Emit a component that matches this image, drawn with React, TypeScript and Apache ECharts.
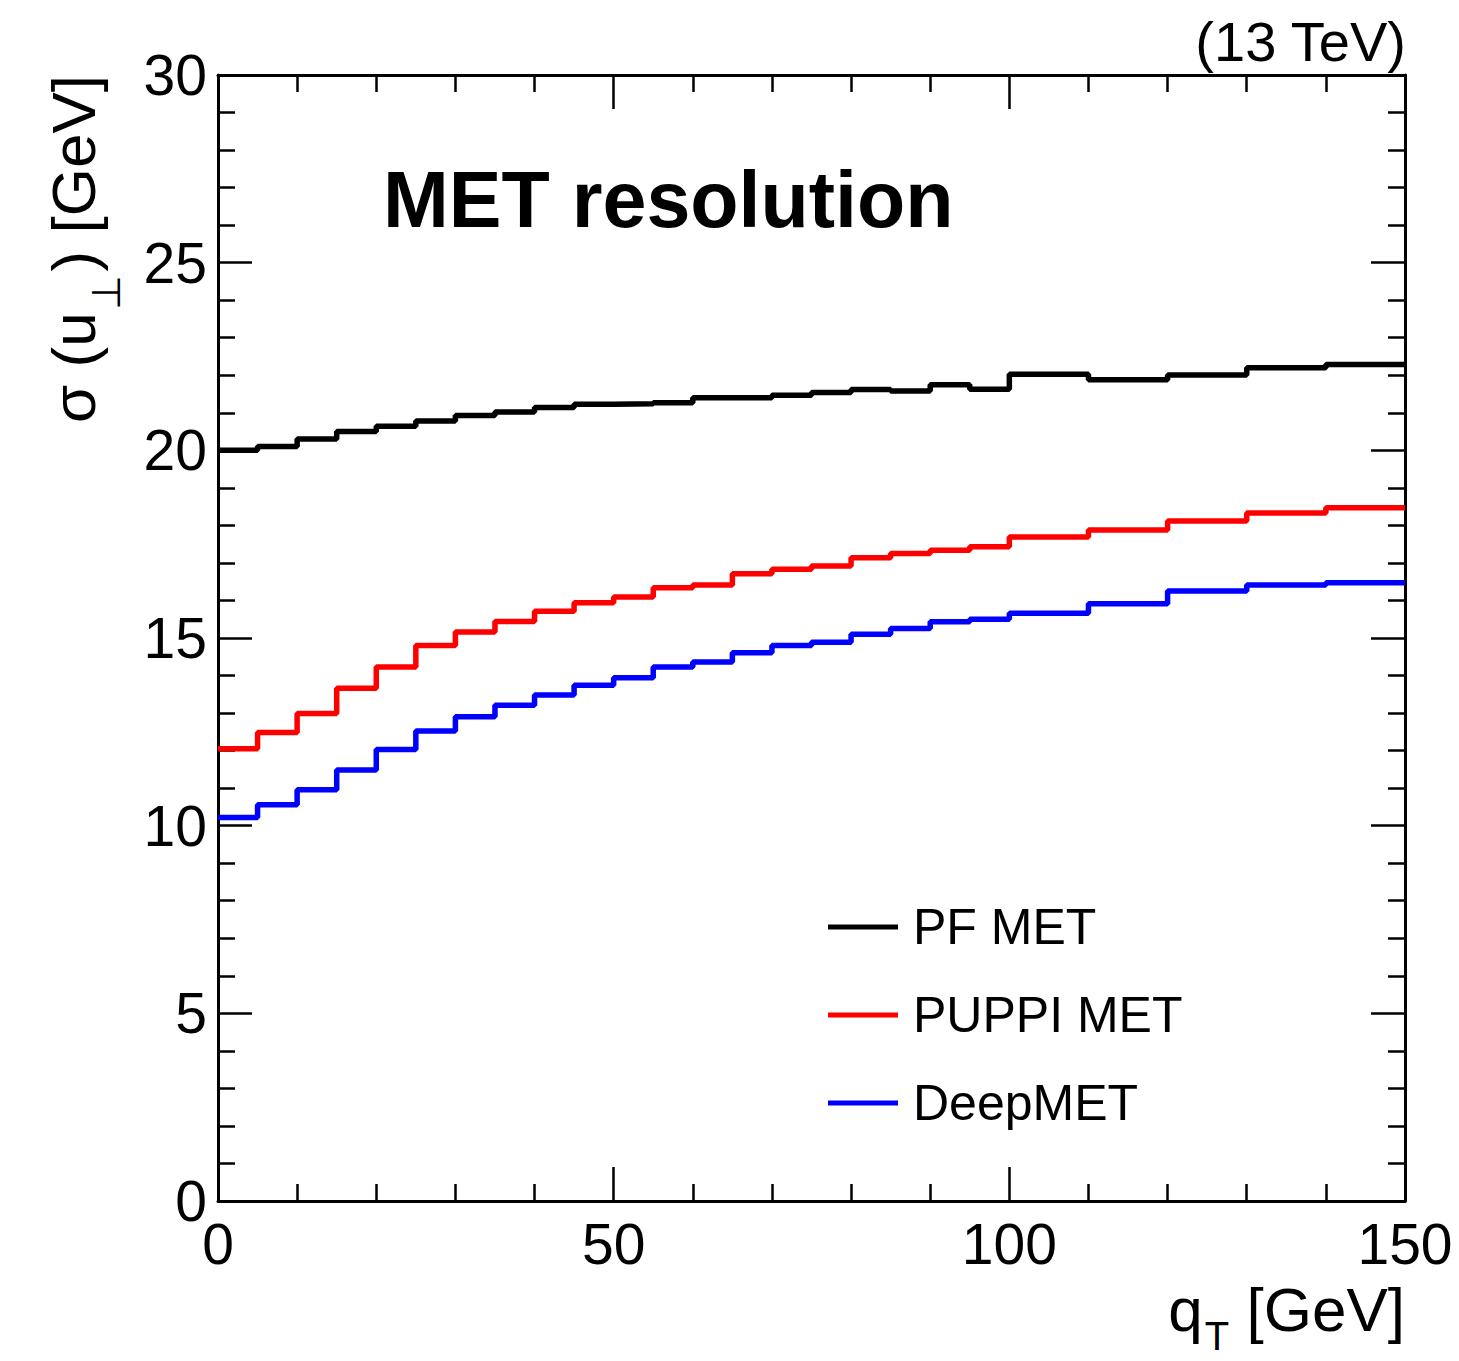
import React, { useEffect, useRef } from "react";
import * as echarts from "echarts";

// Bin edges of q_T [GeV]
const qtEdges = [0, 5, 10, 15, 20, 25, 30, 35, 40, 45, 50, 55, 60, 65, 70, 75, 80, 85, 90, 95, 100, 105, 110, 115, 120, 125, 130, 135, 140, 145, 150];

// sigma(u_perp) [GeV] per bin
const pfMet = [20.0, 20.1, 20.3, 20.5, 20.64, 20.78, 20.93, 21.02, 21.14, 21.23, 21.24, 21.27, 21.4, 21.4, 21.47, 21.54, 21.62, 21.58, 21.75, 21.63, 22.03, 22.03, 21.88, 21.88, 22.01, 22.01, 22.2, 22.2, 22.29, 22.29];
const puppiMet = [12.05, 12.48, 12.99, 13.66, 14.23, 14.8, 15.16, 15.44, 15.71, 15.94, 16.09, 16.34, 16.41, 16.71, 16.83, 16.92, 17.14, 17.25, 17.34, 17.43, 17.69, 17.69, 17.88, 17.88, 18.12, 18.12, 18.33, 18.33, 18.47, 18.47];
const deepMet = [10.22, 10.56, 10.96, 11.48, 12.03, 12.52, 12.9, 13.21, 13.48, 13.74, 13.94, 14.23, 14.36, 14.61, 14.8, 14.89, 15.1, 15.25, 15.43, 15.5, 15.66, 15.66, 15.91, 15.91, 16.25, 16.25, 16.41, 16.41, 16.47, 16.47];

const seriesNames = ["PF MET", "PUPPI MET", "DeepMET"];
const seriesColors = ["#000000", "#ff0000", "#0000ff"];

const FONT = "'Liberation Sans', Arial, Helvetica, sans-serif";

function toSteps(values: number[]) {
  return qtEdges.map((e, i) => [e, values[Math.min(i, values.length - 1)]]);
}

export default function App() {
  const ref = useRef<HTMLDivElement>(null);

  useEffect(() => {
    if (!ref.current) return;
    const chart = echarts.init(ref.current, null, { renderer: "svg" });

    const lineStyle = { color: "#000", width: 3 };
    const tickStyle = { color: "#000", width: 2.5 };

    const xBase = {
      type: "value",
      min: 0,
      max: 150,
      interval: 50,
      axisLine: { show: true, onZero: false, lineStyle },
      axisTick: { show: true, inside: true, length: 34, lineStyle: tickStyle },
      minorTick: { show: true, splitNumber: 5, length: 17, lineStyle: tickStyle },
      splitLine: { show: false },
      minorSplitLine: { show: false },
    };
    const yBase = {
      type: "value",
      min: 0,
      max: 30,
      interval: 5,
      axisLine: { show: true, onZero: false, lineStyle },
      axisTick: { show: true, inside: true, length: 34, lineStyle: tickStyle },
      minorTick: { show: true, splitNumber: 5, length: 17, lineStyle: tickStyle },
      splitLine: { show: false },
      minorSplitLine: { show: false },
    };

    const data = [pfMet, puppiMet, deepMet];

    chart.setOption({
      animation: false,
      backgroundColor: "#ffffff",
      grid: { left: 218, top: 75, right: 54, bottom: 160, outerBoundsMode: "none", containLabel: false },
      xAxis: [
        {
          ...xBase,
          position: "bottom",
          axisLabel: { show: true, margin: 14, fontSize: 57, fontFamily: FONT, color: "#000" },
        },
        {
          ...xBase,
          position: "top",
          axisLabel: { show: false },
        },
      ],
      yAxis: [
        {
          ...yBase,
          position: "left",
          axisLabel: { show: true, margin: 11, fontSize: 57, fontFamily: FONT, color: "#000" },
        },
        {
          ...yBase,
          position: "right",
          axisLabel: { show: false },
        },
      ],
      legend: {
        orient: "vertical",
        left: 828,
        top: 902,
        padding: 0,
        itemGap: 38,
        itemWidth: 70,
        itemHeight: 5,
        icon: "rect",
        selectedMode: false,
        textStyle: { fontSize: 50, fontFamily: FONT, color: "#000", lineHeight: 50, padding: [0, 0, 0, 10] },
        data: seriesNames,
      },
      series: seriesNames.map((name, i) => ({
        name,
        type: "line",
        step: "end",
        xAxisIndex: 0,
        yAxisIndex: 0,
        showSymbol: false,
        symbol: "none",
        color: seriesColors[i],
        lineStyle: { color: seriesColors[i], width: 5.5 },
        data: toSteps(data[i]),
        z: 3 - i,
      })),
      graphic: [
        {
          type: "text",
          x: 383,
          y: 199,
          style: {
            text: "MET resolution",
            fontSize: 79,
            fontWeight: "bold",
            fontFamily: FONT,
            fill: "#000",
            align: "left",
            verticalAlign: "middle",
          },
        },
        {
          type: "text",
          x: 1406,
          y: 41,
          style: {
            text: "(13 TeV)",
            fontSize: 56,
            fontFamily: FONT,
            fill: "#000",
            align: "right",
            verticalAlign: "middle",
          },
        },
        {
          type: "text",
          x: 1405,
          y: 1278,
          style: {
            text: "{a|q}{s|T}{a| [GeV]}",
            align: "right",
            verticalAlign: "top",
            rich: {
              a: { fontSize: 62, fontFamily: FONT, fill: "#000", verticalAlign: "top" },
              s: { fontSize: 40, fontFamily: FONT, fill: "#000", verticalAlign: "top", padding: [38, 0, 0, 2] },
            },
          },
        },
        {
          type: "text",
          x: 42,
          y: 75,
          rotation: Math.PI / 2,
          style: {
            text: "{a|σ (u}{s|⊥}{a|) [GeV]}",
            align: "right",
            verticalAlign: "top",
            rich: {
              a: { fontSize: 62, fontFamily: FONT, fill: "#000", verticalAlign: "top" },
              s: { fontSize: 40, fontFamily: FONT, fill: "#000", verticalAlign: "top", padding: [44, 4, 0, 2] },
            },
          },
        },
      ],
    });

    return () => chart.dispose();
  }, []);

  return (
    <div
      ref={ref}
      style={{ position: "absolute", left: 0, top: 0, width: 1459, height: 1361, background: "#fff" }}
    />
  );
}
